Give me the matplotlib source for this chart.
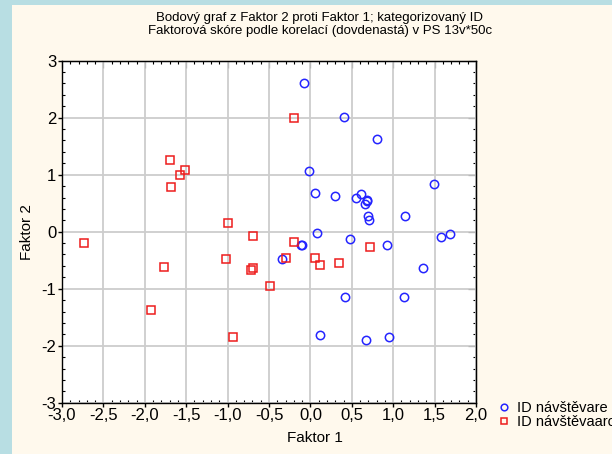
import matplotlib
matplotlib.use("Agg")
import matplotlib.pyplot as plt
from matplotlib import font_manager
from matplotlib.patches import Rectangle
from matplotlib.ticker import MultipleLocator, FuncFormatter

# prefer a narrow sans face, the chart text is condensed
installed = {f.name for f in font_manager.fontManager.ttflist}
narrow = "Liberation Sans Narrow" if "Liberation Sans Narrow" in installed else "Liberation Sans"
plt.rcParams["font.family"] = [narrow, "DejaVu Sans"]
plt.rcParams["axes.unicode_minus"] = False

title_lines = ["Bodový graf z Faktor 2 proti Faktor 1; kategorizovaný ID",
               "Faktorová skóre podle korelací (dovdenastá) v PS 13v*50c"]
series_names = ["ID návštěvare", "ID návštěvaaro"]

# factor scores, group "re" (blue circles)
re_f1 = [-0.08, 0.41, 0.80, -0.02, 0.05, 0.30, 0.55, 0.61, 0.68, 0.66, 0.68,
         0.69, 0.71, 1.14, 1.49, 0.08, 0.48, 1.58, 1.68, -0.11, -0.10, 0.93,
         1.36, 0.42, 1.13, 0.11, 0.67, 0.95, -0.34]
re_f2 = [2.61, 2.01, 1.63, 1.06, 0.68, 0.62, 0.60, 0.66, 0.55, 0.49, 0.53,
         0.28, 0.21, 0.28, 0.84, -0.02, -0.12, -0.10, -0.04, -0.23, -0.24, -0.23,
         -0.63, -1.14, -1.14, -1.82, -1.90, -1.85, -0.48]

# factor scores, group "aro" (red squares)
aro_f1 = [-0.20, -1.70, -1.58, -1.51, -1.68, -0.99, -2.73, -1.77, -1.93, -0.69,
          -1.02, -0.69, -0.72, -0.93, -0.49, -0.20, -0.29, 0.05, 0.11, 0.35, 0.72]
aro_f2 = [1.99, 1.26, 0.99, 1.09, 0.79, 0.16, -0.19, -0.62, -1.38, -0.08,
          -0.48, -0.63, -0.68, -1.85, -0.95, -0.18, -0.47, -0.46, -0.58, -0.55, -0.26]

W, H = 612, 454
fig = plt.figure(figsize=(W / 100, H / 100), dpi=100, facecolor="#b8dee3")
fig.add_artist(Rectangle((12 / W, 0), 1, (H - 5) / H, transform=fig.transFigure,
                         facecolor="#fff9ed", edgecolor="none", zorder=-5))

ax = fig.add_axes([62 / W, (H - 402.7) / H, 414 / W, 342 / H])
ax.set_facecolor("white")

ax.plot(re_f1, re_f2, "o", mfc="none", mec="#2424ff", ms=6, mew=1.1,
        label=series_names[0], zorder=3)
ax.plot(aro_f1, aro_f2, "s", mfc="none", mec="#ee1c1c", ms=5.5, mew=1.1,
        label=series_names[1], zorder=3)

ax.set_xlim(-3, 2)
ax.set_ylim(-3, 3)
ax.xaxis.set_major_locator(MultipleLocator(0.5))
ax.xaxis.set_minor_locator(MultipleLocator(0.1))
ax.yaxis.set_major_locator(MultipleLocator(1))
ax.yaxis.set_minor_locator(MultipleLocator(0.2))


def comma_fmt(v, pos):
    if abs(v) < 1e-9:
        v = 0.0
    return f"{v:.1f}".replace(".", ",")


ax.xaxis.set_major_formatter(FuncFormatter(comma_fmt))
ax.yaxis.set_major_formatter(FuncFormatter(lambda v, p: f"{int(round(v))}"))

ax.grid(True, which="major", color="#cdcdcd", linewidth=1.3, zorder=0)
ax.set_axisbelow(True)
for s in ax.spines.values():
    s.set_color("black")
    s.set_linewidth(1.0)

ax.tick_params(which="major", direction="out", length=3, width=1, pad=1,
               labelsize=12, colors="black")
ax.tick_params(which="minor", direction="in", length=2, width=0.8)

# inward ticks on the top and right edges
top = ax.secondary_xaxis("top")
top.xaxis.set_major_locator(MultipleLocator(0.5))
top.xaxis.set_minor_locator(MultipleLocator(0.1))
top.tick_params(which="major", direction="in", length=5, labeltop=False)
top.tick_params(which="minor", direction="in", length=2.5, width=0.8)
right = ax.secondary_yaxis("right")
right.yaxis.set_major_locator(MultipleLocator(1))
right.yaxis.set_minor_locator(MultipleLocator(0.2))
right.tick_params(which="major", direction="in", length=6, labelright=False)
right.tick_params(which="minor", direction="in", length=2.5, width=0.8)

ax.set_xlabel("Faktor 1", fontsize=11, va="top")
ax.xaxis.set_label_coords((315 - 62) / 414, -(431 - 402.7) / 342)
ax.set_ylabel("Faktor 2", fontsize=11, va="center")
ax.yaxis.set_label_coords(-(62 - 27) / 414, 0.5)

fig.text(320 / W, 1 - 12 / H, "\n".join(title_lines), ha="center", va="top",
         fontsize=9.5, linespacing=1.15)

fig.legend(loc="center left", bbox_to_anchor=(495 / W, 1 - 415 / H),
           frameon=False, fontsize=10.5, handletextpad=0.3, labelspacing=0.0,
           borderpad=0, borderaxespad=0, handlelength=1.2, markerscale=0.8)

fig.savefig("out.png", dpi=100, facecolor=fig.get_facecolor())
